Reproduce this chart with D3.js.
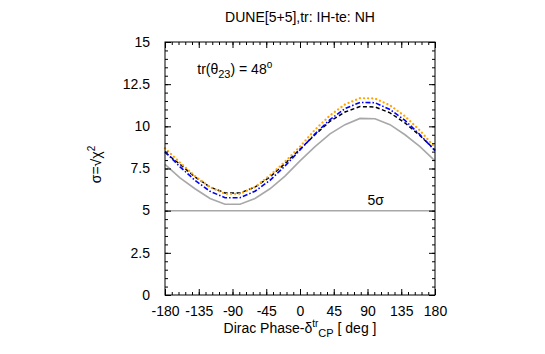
<!DOCTYPE html>
<html>
<head>
<meta charset="utf-8">
<script src="https://cdn.jsdelivr.net/npm/d3@7"></script>
<style>
  body { margin: 0; background: #fff; }
  svg { display: block; font-family: "Liberation Sans", Arial, sans-serif; }
</style>
</head>
<body>
<svg id="chart" width="545" height="354"></svg>
<script>
// Dirac phase (deg) and sigma values
const deltaCP = [-180, -160, -140, -120, -100, -80, -60, -40, -20, 0, 20, 40, 60, 80, 100, 120, 140, 160, 180];
const greySolid = [7.75, 6.95, 6.3, 5.72, 5.38, 5.38, 5.72, 6.3, 7.05, 7.95, 8.8, 9.55, 10.1, 10.47, 10.45, 10.1, 9.5, 8.8, 7.95];
const blackDashed = [8.45, 7.75, 7.0, 6.4, 6.05, 6.05, 6.4, 7.0, 7.8, 8.65, 9.5, 10.3, 10.85, 11.17, 11.15, 10.8, 10.2, 9.45, 8.6];
const blueDashDot = [8.5, 7.6, 6.8, 6.15, 5.77, 5.77, 6.15, 6.8, 7.65, 8.6, 9.55, 10.4, 11.05, 11.42, 11.4, 11.0, 10.35, 9.5, 8.55];
const orangeDotted = [8.7, 7.85, 7.05, 6.4, 6.0, 6.0, 6.4, 7.1, 7.9, 8.8, 9.8, 10.65, 11.3, 11.67, 11.65, 11.25, 10.6, 9.75, 8.75];
const xTicks = [-180, -135, -90, -45, 0, 45, 90, 135, 180];
const yTicks = [0, 2.5, 5, 7.5, 10, 12.5, 15];
const fiveSigma = 5;

const svg = d3.select("#chart");
const margin = { top: 42, right: 110, bottom: 59, left: 165 };
const width = 545 - margin.left - margin.right;
const height = 354 - margin.top - margin.bottom;
const fs = "14px";

const g = svg.append("g").attr("transform", `translate(${margin.left},${margin.top})`);

const x = d3.scaleLinear().domain([-180, 180]).range([0, width]);
const y = d3.scaleLinear().domain([0, 15]).range([height, 0]);

// Titel
svg.append("text")
  .attr("x", margin.left + width / 2)
  .attr("y", 22)
  .attr("text-anchor", "middle")
  .attr("font-size", fs)
  .attr("fill", "#000")
  .text("DUNE[5+5],tr: IH-te: NH");

// Kurven
const line = d3.line()
  .x((d, i) => x(deltaCP[i]))
  .y(d => y(d));

g.append("line")
  .attr("x1", 0).attr("x2", width)
  .attr("y1", y(fiveSigma)).attr("y2", y(fiveSigma))
  .attr("stroke", "#a8a8a8").attr("stroke-width", 1.5);

const series = [
  { values: greySolid, color: "#a8a8a8", dash: null, w: 1.6 },
  { values: blackDashed, color: "#000", dash: "4,2.5", w: 1.5 },
  { values: blueDashDot, color: "#0000ff", dash: "5,2,1.5,2", w: 1.6 },
  { values: orangeDotted, color: "#ffa500", dash: "0.1,4", w: 2.2 }
];

series.forEach(s => {
  g.append("path")
    .datum(s.values)
    .attr("d", line)
    .attr("fill", "none")
    .attr("stroke", s.color)
    .attr("stroke-width", s.w)
    .attr("stroke-linecap", s.dash === "0.1,4" ? "round" : "butt")
    .attr("stroke-dasharray", s.dash);
});

// Achsen (Ticks nach innen, auf allen Seiten)
const minorX = d3.range(-180, 181, 9);
const minorY = d3.range(0, 15.01, 0.5);

function tickGroup(axisGen, transform) {
  const a = g.append("g").attr("transform", transform).call(axisGen);
  a.select(".domain").remove();
  a.selectAll("line").attr("stroke", "#000");
  return a;
}

tickGroup(d3.axisBottom(x).tickValues(minorX).tickSize(-3).tickFormat(""), `translate(0,${height})`);
tickGroup(d3.axisTop(x).tickValues(minorX).tickSize(-3).tickFormat(""), "translate(0,0)");
tickGroup(d3.axisLeft(y).tickValues(minorY).tickSize(-3).tickFormat(""), "translate(0,0)");
tickGroup(d3.axisRight(y).tickValues(minorY).tickSize(-3).tickFormat(""), `translate(${width},0)`);

const xb = tickGroup(d3.axisBottom(x).tickValues(xTicks).tickSize(-6).tickPadding(11).tickFormat(d => String(d)), `translate(0,${height})`);
tickGroup(d3.axisTop(x).tickValues(xTicks).tickSize(-6).tickFormat(""), "translate(0,0)");
const yl = tickGroup(d3.axisLeft(y).tickValues(yTicks).tickSize(-6).tickPadding(15).tickFormat(d => d), "translate(0,0)");
tickGroup(d3.axisRight(y).tickValues(yTicks).tickSize(-6).tickFormat(""), `translate(${width},0)`);

[xb, yl].forEach(a => a.selectAll("text")
  .attr("font-size", fs)
  .attr("fill", "#000")
  .attr("font-family", "Liberation Sans, Arial, sans-serif"));
yl.selectAll("text").attr("dy", "0.3em");

// Rahmen
g.append("rect")
  .attr("width", width).attr("height", height)
  .attr("fill", "none").attr("stroke", "#000").attr("stroke-width", 1);

// Achsentitel
const xl = svg.append("text")
  .attr("x", margin.left + width / 2)
  .attr("y", 333)
  .attr("text-anchor", "middle")
  .attr("font-size", fs)
  .attr("fill", "#000");
xl.append("tspan").text("Dirac Phase-δ");
xl.append("tspan").attr("dy", -6).attr("font-size", "10px").text("tr");
xl.append("tspan").attr("dy", 10).attr("font-size", "11px").text("CP");
xl.append("tspan").attr("dy", -4).text(" [ deg ]");

const ylab = svg.append("text")
  .attr("transform", `translate(101,${margin.top + height / 2 - 4}) rotate(-90)`)
  .attr("text-anchor", "middle")
  .attr("font-size", fs)
  .attr("fill", "#000");
ylab.append("tspan").text("σ=√χ");
ylab.append("tspan").attr("dy", -6).attr("font-size", "10px").text("2");

// Annotationen
const ann = g.append("text")
  .attr("x", x(-137))
  .attr("y", y(13.1))
  .attr("font-size", fs)
  .attr("fill", "#000");
ann.append("tspan").text("tr(θ");
ann.append("tspan").attr("dy", 4).attr("font-size", "11px").text("23");
ann.append("tspan").attr("dy", -4).text(") = 48");
ann.append("tspan").attr("dy", -6).attr("font-size", "10px").text("o");

g.append("text")
  .attr("x", x(90))
  .attr("y", y(fiveSigma) - 6)
  .attr("font-size", fs)
  .attr("fill", "#000")
  .text("5σ");
</script>
</body>
</html>
